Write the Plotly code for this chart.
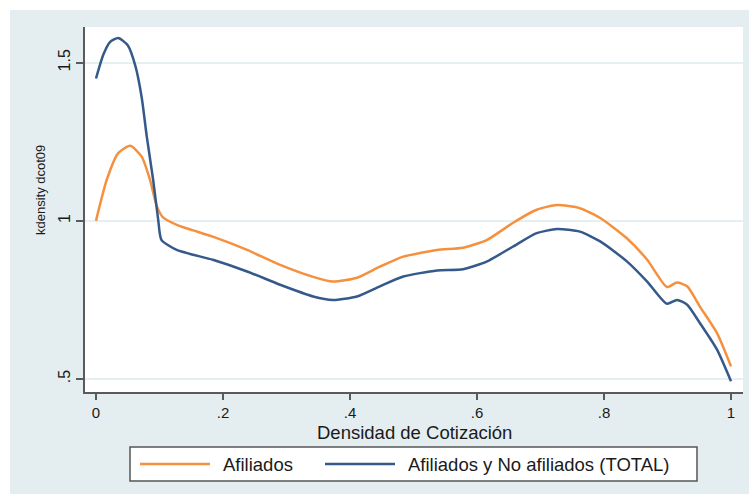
import plotly.graph_objects as go

# ---- data ----
x_afiliados = [0, 0.017, 0.035, 0.054, 0.072, 0.085, 0.096, 0.106, 0.13, 0.153, 0.184, 0.238,
               0.29, 0.342, 0.373, 0.411, 0.447, 0.484, 0.537, 0.578, 0.616, 0.657, 0.694,
               0.726, 0.762, 0.794, 0.836, 0.868, 0.899, 0.915, 0.931, 0.951, 0.978, 1.0]
y_afiliados = [1.00, 1.13, 1.214, 1.237, 1.203, 1.13, 1.045, 1.01, 0.985, 0.97, 0.95, 0.908,
               0.861, 0.823, 0.808, 0.82, 0.855, 0.887, 0.908, 0.915, 0.94, 0.994, 1.035,
               1.05, 1.04, 1.009, 0.945, 0.877, 0.791, 0.805, 0.793, 0.729, 0.645, 0.54]

x_total = [0, 0.0115, 0.022, 0.035, 0.05, 0.062, 0.072, 0.08, 0.09, 0.098, 0.103, 0.127, 0.184,
           0.238, 0.29, 0.342, 0.373, 0.411, 0.447, 0.484, 0.537, 0.578, 0.616, 0.657, 0.694,
           0.726, 0.762, 0.794, 0.836, 0.868, 0.899, 0.915, 0.931, 0.951, 0.978, 1.0]
y_total = [1.45, 1.525, 1.565, 1.578, 1.555, 1.49, 1.39, 1.266, 1.13, 1.003, 0.94, 0.908, 0.877,
           0.84, 0.798, 0.761, 0.75, 0.761, 0.793, 0.824, 0.843, 0.847, 0.872, 0.919, 0.961,
           0.974, 0.966, 0.935, 0.872, 0.808, 0.738, 0.75, 0.735, 0.677, 0.593, 0.493]

series_names = ["Afiliados", "Afiliados y No afiliados (TOTAL)"]
x_tickvals = [0, 0.2, 0.4, 0.6, 0.8, 1]
x_ticktext = ["0", ".2", ".4", ".6", ".8", "1"]
y_tickvals = [0.5, 1, 1.5]
y_ticktext = [".5", "1", "1.5"]
x_title = "Densidad de Cotización"
y_title = "kdensity dcot09"

ORANGE = "#F5913E"
BLUE = "#34598A"
BG = "#E4EEF0"
AXIS = "#5a5a5a"
TXT = "#1a1a1a"
FONT = "Liberation Sans, Arial, sans-serif"

fig = go.Figure()
fig.add_trace(go.Scatter(x=x_afiliados, y=y_afiliados, mode="lines", name=series_names[0],
                         line=dict(color=ORANGE, width=2.5, shape="spline", smoothing=0.6),
                         showlegend=False))
fig.add_trace(go.Scatter(x=x_total, y=y_total, mode="lines", name=series_names[1],
                         line=dict(color=BLUE, width=2.5, shape="spline", smoothing=0.6),
                         showlegend=False))

# plot area in pixels: x 85..743, y 27..392
W, H = 749, 496
L, R, T, B = 85, 6, 27, 104
pw, ph = W - L - R, H - T - B

def px(xpix):
    return (xpix - L) / pw

def py(ypix):
    return (H - B - ypix) / ph

shapes = [
    dict(type="rect", xref="paper", yref="paper", x0=px(10), x1=px(749), y0=py(494), y1=py(10),
         fillcolor=BG, line=dict(width=0), layer="below"),
    dict(type="rect", xref="paper", yref="paper", x0=0, x1=1, y0=0, y1=1,
         fillcolor="white", line=dict(width=0), layer="below"),
    # custom legend box
    dict(type="rect", xref="paper", yref="paper", x0=px(130), x1=px(697), y0=py(481), y1=py(447),
         fillcolor="white", line=dict(color="#555555", width=1.5)),
    dict(type="line", xref="paper", yref="paper", x0=px(140), x1=px(210), y0=py(464), y1=py(464),
         line=dict(color=ORANGE, width=2.5)),
    dict(type="line", xref="paper", yref="paper", x0=px(325), x1=px(395), y0=py(464), y1=py(464),
         line=dict(color=BLUE, width=2.5)),
]

annotations = [
    dict(text=series_names[0], xref="paper", yref="paper", x=px(221), y=py(464),
         xanchor="left", yanchor="middle", showarrow=False,
         font=dict(family=FONT, size=18.5, color=TXT)),
    dict(text=series_names[1], xref="paper", yref="paper", x=px(406), y=py(464),
         xanchor="left", yanchor="middle", showarrow=False,
         font=dict(family=FONT, size=18.5, color=TXT)),
    dict(text=x_title, xref="paper", yref="paper", x=px(414), y=py(432),
         xanchor="center", yanchor="middle", showarrow=False,
         font=dict(family=FONT, size=18.5, color=TXT)),
    dict(text=y_title, xref="paper", yref="paper", x=px(40), y=py(190),
         xanchor="center", yanchor="middle", showarrow=False, textangle=-90,
         font=dict(family=FONT, size=13, color=TXT)),
]

fig.update_layout(
    width=W, height=H,
    margin=dict(l=L, r=R, t=T, b=B, pad=0),
    paper_bgcolor="white", plot_bgcolor="white",
    shapes=shapes, annotations=annotations,
    font=dict(family=FONT, color=TXT),
    xaxis=dict(range=[-0.0173, 1.0189], tickvals=x_tickvals, ticktext=x_ticktext,
               showgrid=False, zeroline=False, showline=True, linecolor=AXIS, linewidth=2,
               ticks="outside", ticklen=6, tickwidth=1.5, tickcolor=AXIS,
               tickfont=dict(size=15, family=FONT, color=TXT)),
    yaxis=dict(range=[0.459, 1.6127], tickvals=y_tickvals, ticktext=y_ticktext,
               showgrid=True, gridcolor="#E6F0F2", gridwidth=2, zeroline=False,
               showline=True, linecolor=AXIS, linewidth=2,
               ticks="outside", ticklen=7, tickwidth=1.5, tickcolor=AXIS, tickangle=-90,
               tickfont=dict(size=16, family=FONT, color=TXT)),
)

fig.write_html("out.html", config={"displayModeBar": False},
               post_script="document.body.style.margin='0px';")
